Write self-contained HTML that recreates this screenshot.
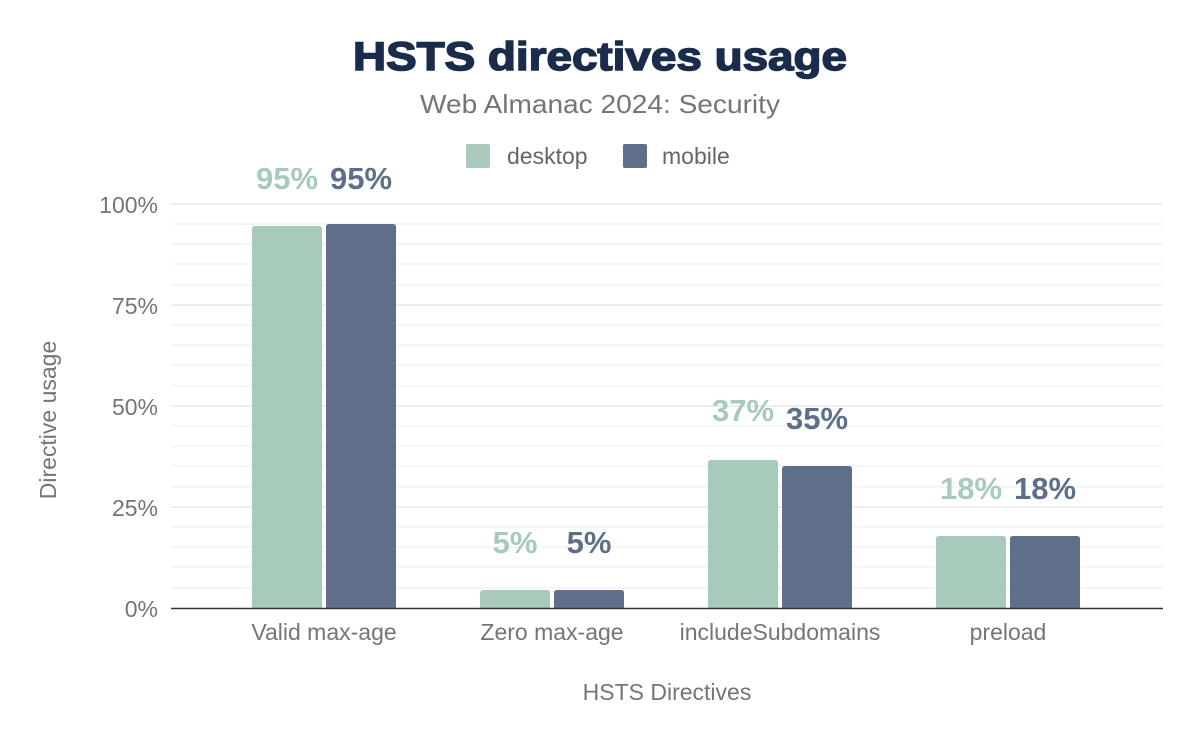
<!DOCTYPE html>
<html><head><meta charset="utf-8"><style>
body{margin:0;background:#fff;}
svg{display:block;font-family:"Liberation Sans",Arial,sans-serif;}
</style></head><body>
<svg width="1200" height="742" viewBox="0 0 1200 742">
<text x="600" y="70" text-anchor="middle" font-size="40" font-weight="bold" fill="#1a2b4b" textLength="494" lengthAdjust="spacingAndGlyphs" stroke="#1a2b4b" stroke-width="1.5">HSTS directives usage</text>
<text x="600" y="113" text-anchor="middle" font-size="26" fill="#757575" textLength="360" lengthAdjust="spacingAndGlyphs">Web Almanac 2024: Security</text>
<rect x="466" y="144" width="24" height="24" rx="2" fill="#a8cabb"/>
<text x="507" y="164" font-size="23" fill="#666">desktop</text>
<rect x="623" y="144" width="24" height="24" rx="2" fill="#5f6f89"/>
<text x="662" y="164" font-size="23" fill="#666">mobile</text>
<g stroke="#f2f2f2" stroke-width="1.5">
<line x1="171" x2="1163" y1="224" y2="224"/><line x1="171" x2="1163" y1="244" y2="244"/><line x1="171" x2="1163" y1="264" y2="264"/><line x1="171" x2="1163" y1="285" y2="285"/>
<line x1="171" x2="1163" y1="325" y2="325"/><line x1="171" x2="1163" y1="345" y2="345"/><line x1="171" x2="1163" y1="365" y2="365"/><line x1="171" x2="1163" y1="386" y2="386"/>
<line x1="171" x2="1163" y1="426" y2="426"/><line x1="171" x2="1163" y1="446" y2="446"/><line x1="171" x2="1163" y1="466" y2="466"/><line x1="171" x2="1163" y1="487" y2="487"/>
<line x1="171" x2="1163" y1="527" y2="527"/><line x1="171" x2="1163" y1="547" y2="547"/><line x1="171" x2="1163" y1="567" y2="567"/><line x1="171" x2="1163" y1="588" y2="588"/>
</g>
<g stroke="#e8e8e8" stroke-width="1.5">
<line x1="171" x2="1163" y1="204" y2="204"/><line x1="171" x2="1163" y1="305" y2="305"/><line x1="171" x2="1163" y1="406" y2="406"/><line x1="171" x2="1163" y1="507" y2="507"/>
</g>
<g font-size="23" fill="#757575" text-anchor="end">
<text x="158" y="213">100%</text><text x="158" y="314">75%</text><text x="158" y="415">50%</text><text x="158" y="516">25%</text><text x="158" y="617">0%</text>
</g>
<text transform="translate(56,420) rotate(-90)" text-anchor="middle" font-size="23" fill="#757575">Directive usage</text>
<g fill="#a8cabb">
<path d="M252,608V229q0,-3 3,-3h64q3,0 3,3V608z"/>
<path d="M480,608V593q0,-3 3,-3h64q3,0 3,3V608z"/>
<path d="M708,608V463q0,-3 3,-3h64q3,0 3,3V608z"/>
<path d="M936,608V539q0,-3 3,-3h64q3,0 3,3V608z"/>
</g>
<g fill="#5f6f89">
<path d="M326,608V227q0,-3 3,-3h64q3,0 3,3V608z"/>
<path d="M554,608V593q0,-3 3,-3h64q3,0 3,3V608z"/>
<path d="M782,608V469q0,-3 3,-3h64q3,0 3,3V608z"/>
<path d="M1010,608V539q0,-3 3,-3h64q3,0 3,3V608z"/>
</g>
<line x1="171" x2="1163" y1="608.5" y2="608.5" stroke="#333" stroke-width="1.5"/>
<g font-size="31" font-weight="bold" text-anchor="middle">
<g fill="#a8cabb"><text x="287" y="189">95%</text><text x="515" y="553">5%</text><text x="743" y="421">37%</text><text x="971" y="499">18%</text></g>
<g fill="#5f6f89"><text x="361" y="189">95%</text><text x="589" y="553">5%</text><text x="817" y="429">35%</text><text x="1045" y="499">18%</text></g>
</g>
<g font-size="23" fill="#757575" text-anchor="middle">
<text x="324" y="640">Valid max-age</text><text x="552" y="640">Zero max-age</text><text x="780" y="640">includeSubdomains</text><text x="1008" y="640">preload</text>
</g>
<text x="667" y="700" text-anchor="middle" font-size="23" fill="#757575">HSTS Directives</text>
</svg>
</body></html>
